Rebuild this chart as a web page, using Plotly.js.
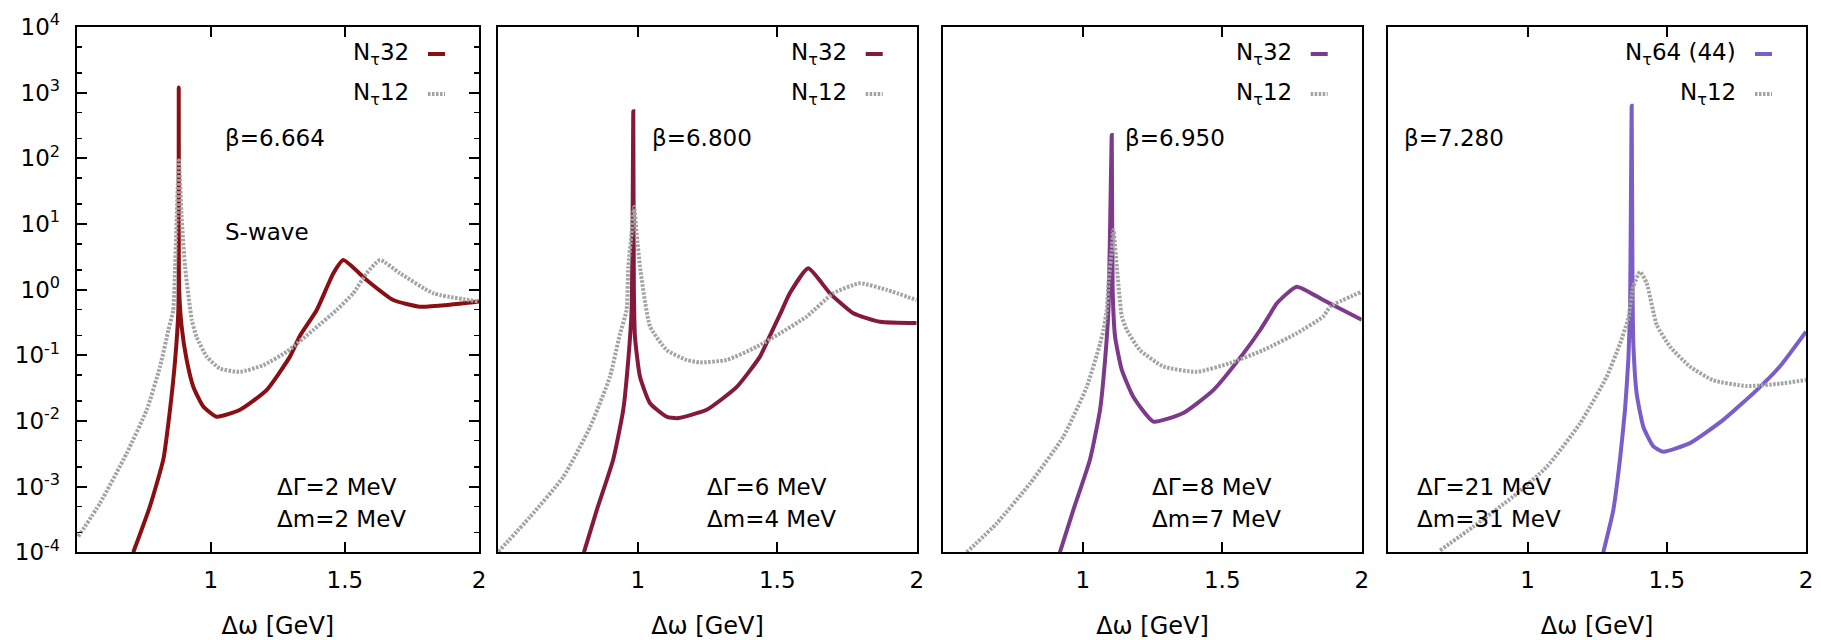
<!DOCTYPE html>
<html><head><meta charset="utf-8">
<script src="https://cdn.plot.ly/plotly-3.0.1.min.js"></script>
<style>html,body{margin:0;padding:0;background:#fff}#chart{width:1821px;height:640px}</style>
</head><body><div id="chart"></div>
<script>
// ---------------- data ----------------
const panelBetas = ["β=6.664", "β=6.800", "β=6.950", "β=7.280"];
const panelGamma = ["ΔΓ=2 MeV", "ΔΓ=6 MeV", "ΔΓ=8 MeV", "ΔΓ=21 MeV"];
const panelMass  = ["Δm=2 MeV", "Δm=4 MeV", "Δm=7 MeV", "Δm=31 MeV"];
const mainLabels = ["N<sub>τ</sub>32", "N<sub>τ</sub>32", "N<sub>τ</sub>32", "N<sub>τ</sub>64 (44)"];
const refLabel = "N<sub>τ</sub>12";
const xTickVals = [1, 1.5, 2];
const xTickText = ["1", "1.5", "2"];
const yTickVals = [1e-4, 1e-3, 1e-2, 1e-1, 1e0, 1e1, 1e2, 1e3, 1e4];
const yTickText = ["10<sup>-4</sup>","10<sup>-3</sup>","10<sup>-2</sup>","10<sup>-1</sup>","10<sup>0</sup>","10<sup>1</sup>","10<sup>2</sup>","10<sup>3</sup>","10<sup>4</sup>"];

// panel 1 (beta = 6.664)
const p1MainX = [0.711, 0.773, 0.823, 0.848, 0.867, 0.879, 0.8805, 0.882, 0.891, 0.910, 0.935, 0.972, 1.022, 1.109, 1.208, 1.295, 1.333, 1.395, 1.457, 1.494, 1.581, 1.68, 1.78, 1.892, 2.0];
const p1MainY = [1.0e-4, 5.0e-4, 2.6e-3, 1.5e-2, 8.5e-2, 0.49, 1.2e3, 1.0, 0.28, 0.085, 0.033, 0.0166, 0.0116, 0.0148, 0.0295, 0.0955, 0.2, 0.49, 1.78, 2.83, 1.4, 0.695, 0.55, 0.59, 0.66];
const p1RefX = [0.506, 0.587, 0.686, 0.761, 0.811, 0.842, 0.860, 0.867, 0.873, 0.881, 0.891, 0.904, 0.929, 0.947, 0.985, 1.034, 1.109, 1.196, 1.283, 1.382, 1.469, 1.531, 1.581, 1.631, 1.705, 1.83, 2.0];
const p1RefY = [1.74e-4, 5.6e-4, 3.2e-3, 0.0148, 0.0676, 0.243, 0.49, 2.24, 12.9, 93, 12.9, 2.24, 0.347, 0.19, 0.0955, 0.063, 0.056, 0.0708, 0.1135, 0.243, 0.49, 0.88, 1.78, 2.82, 1.78, 0.88, 0.66];

// panel 2 (beta = 6.800)
const p2MainX = [0.807, 0.853, 0.912, 0.948, 0.966, 0.978, 0.984, 0.986, 0.990, 1.008, 1.044, 1.104, 1.14, 1.247, 1.355, 1.438, 1.474, 1.51, 1.545, 1.611, 1.689, 1.773, 1.869, 2.0];
const p2MainY = [1.0e-4, 4.4e-4, 2.6e-3, 0.0148, 0.085, 0.49, 520, 1.0, 0.19, 0.047, 0.0186, 0.0116, 0.011, 0.0148, 0.033, 0.0955, 0.2, 0.42, 0.88, 2.11, 0.88, 0.437, 0.324, 0.31];
const p2RefX = [0.5, 0.614, 0.733, 0.829, 0.90, 0.936, 0.96, 0.966, 0.978, 0.987, 0.996, 1.008, 1.044, 1.104, 1.175, 1.223, 1.319, 1.427, 1.51, 1.606, 1.701, 1.797, 1.893, 2.0];
const p2RefY = [1.02e-4, 3.47e-4, 1.41e-3, 8.1e-3, 0.047, 0.21, 0.49, 2.24, 7.2, 18.2, 7.2, 2.24, 0.275, 0.12, 0.085, 0.078, 0.085, 0.135, 0.216, 0.39, 0.88, 1.25, 0.99, 0.695];

// panel 3 (beta = 6.950)
const p3MainX = [0.918, 0.966, 1.026, 1.062, 1.08, 1.092, 1.104, 1.107, 1.116, 1.14, 1.181, 1.253, 1.36, 1.468, 1.576, 1.636, 1.671, 1.696, 1.767, 1.862, 2.0];
const p3MainY = [1.0e-4, 4.4e-4, 2.6e-3, 0.0148, 0.085, 0.49, 226, 1.0, 0.19, 0.06, 0.0234, 0.0098, 0.0132, 0.0295, 0.107, 0.243, 0.42, 0.62, 1.11, 0.695, 0.347];
const p3RefX = [0.584, 0.691, 0.811, 0.93, 1.014, 1.062, 1.074, 1.086, 1.092, 1.104, 1.11, 1.122, 1.14, 1.158, 1.205, 1.289, 1.409, 1.528, 1.647, 1.767, 1.862, 1.887, 2.0];
const p3RefY = [1.0e-4, 2.75e-4, 1.12e-3, 5.75e-3, 0.033, 0.15, 0.243, 0.49, 1.25, 4.0, 8.1, 2.24, 0.39, 0.243, 0.12, 0.0676, 0.056, 0.076, 0.12, 0.216, 0.39, 0.55, 0.93];

// panel 4 (beta = 7.280)
const p4MainX = [1.272, 1.308, 1.332, 1.35, 1.362, 1.368, 1.374, 1.377, 1.38, 1.392, 1.416, 1.452, 1.487, 1.583, 1.703, 1.823, 1.906, 2.0];
const p4MainY = [1.0e-4, 4.4e-4, 2.6e-3, 0.0148, 0.085, 0.49, 630, 1.0, 0.15, 0.026, 8.1e-3, 4.1e-3, 3.4e-3, 4.6e-3, 0.0104, 0.0295, 0.0676, 0.23];
const p4RefX = [0.686, 0.805, 0.949, 1.069, 1.188, 1.284, 1.332, 1.362, 1.38, 1.404, 1.428, 1.464, 1.512, 1.583, 1.667, 1.787, 1.906, 2.0];
const p4RefY = [1.07e-4, 2.45e-4, 7.1e-4, 2.0e-3, 9.1e-3, 0.047, 0.15, 0.37, 1.11, 1.86, 1.25, 0.29, 0.135, 0.0676, 0.0417, 0.034, 0.037, 0.042];

const mainColors = ["#8a0f12", "#85193d", "#7d3a8a", "#7b5dc9"];
const refColor = "#a3a3a3";

// ---------------- layout helpers ----------------
const W = 1821, H = 640;
const fx = p => p / W;
const fy = p => 1 - p / H;
const frames = [[76.7, 479], [498.3, 916.7], [943.3, 1361.7], [1388.3, 1806]];
const yTop = 27, yBot = 552.3;
const FONT = "DejaVu Sans, Liberation Sans, Arial, sans-serif";

const mains = [[p1MainX, p1MainY], [p2MainX, p2MainY], [p3MainX, p3MainY], [p4MainX, p4MainY]];
const refs = [[p1RefX, p1RefY], [p2RefX, p2RefY], [p3RefX, p3RefY], [p4RefX, p4RefY]];

const traces = [];
const layout = {
  width: W, height: H,
  margin: {l: 0, r: 0, t: 0, b: 0},
  paper_bgcolor: "#fff", plot_bgcolor: "#fff",
  showlegend: false,
  font: {family: FONT, color: "#000", size: 23},
  annotations: [], shapes: []
};

const minorVals = [];
for (let d = -4; d < 4; d++) { minorVals.push(2 * Math.pow(10, d), 5 * Math.pow(10, d)); }

const betaX = [222.7, 650, 1123.3, 1401.7];
const dgX = [275, 705, 1150, 1415];

for (let i = 0; i < 4; i++) {
  const n = i === 0 ? "" : String(i + 1);
  const xa = "x" + n, ya = "y" + n;
  traces.push({x: mains[i][0], y: mains[i][1], xaxis: xa, yaxis: ya, mode: "lines",
    line: {color: mainColors[i], width: 4, shape: "spline", smoothing: 0.5}, hoverinfo: "skip"});
  traces.push({x: refs[i][0], y: refs[i][1], xaxis: xa, yaxis: ya, mode: "lines",
    line: {color: refColor, width: 4, dash: "2.5px,1.5px", shape: "spline", smoothing: 0.5}, hoverinfo: "skip"});

  layout["xaxis" + n] = {
    domain: [fx(frames[i][0]), fx(frames[i][1])], anchor: ya,
    range: [0.5, 2], showgrid: false, zeroline: false,
    showline: true, linecolor: "#000", linewidth: 2, mirror: "ticks",
    ticks: "inside", ticklen: 10, tickwidth: 2, tickcolor: "#000",
    tickvals: xTickVals, ticktext: xTickText, ticklabelstandoff: 6,
    tickfont: {size: 23, family: FONT},
    title: {text: "Δω [GeV]", font: {size: 24, family: FONT}, standoff: 26},
    automargin: false
  };
  const yax = {
    domain: [fy(yBot), fy(yTop)], anchor: xa, type: "log", range: [-4, 4],
    showgrid: false, zeroline: false, showline: true, linecolor: "#000", linewidth: 2,
    automargin: false
  };
  if (i === 0) {
    Object.assign(yax, {mirror: "ticks", ticks: "inside", ticklen: 10, tickwidth: 2, tickcolor: "#000",
      tickvals: yTickVals, ticktext: yTickText, tickfont: {size: 23, family: FONT}, ticklabelstandoff: 10,
      minor: {tickvals: minorVals, ticks: "inside", ticklen: 5, tickwidth: 1.5, tickcolor: "#000", showgrid: false}});
  } else {
    Object.assign(yax, {mirror: true, ticks: "", showticklabels: false});
  }
  layout["yaxis" + n] = yax;

  const right = frames[i][1];
  layout.annotations.push({xref: "paper", yref: "paper", x: fx(right - 68), y: fy(54), xanchor: "right", yanchor: "middle",
    text: mainLabels[i], showarrow: false, font: {size: 23, family: FONT}});
  layout.annotations.push({xref: "paper", yref: "paper", x: fx(right - 68), y: fy(94), xanchor: "right", yanchor: "middle",
    text: refLabel, showarrow: false, font: {size: 23, family: FONT}});
  layout.shapes.push({type: "line", xref: "paper", yref: "paper", x0: fx(right - 51), x1: fx(right - 34), y0: fy(54), y1: fy(54),
    line: {color: mainColors[i], width: 4}});
  layout.shapes.push({type: "line", xref: "paper", yref: "paper", x0: fx(right - 51), x1: fx(right - 34), y0: fy(94), y1: fy(94),
    line: {color: refColor, width: 4, dash: "2.5px,1.5px"}});

  layout.annotations.push({xref: "paper", yref: "paper", x: fx(betaX[i]), y: fy(138), xanchor: "left", yanchor: "middle",
    text: panelBetas[i], showarrow: false, font: {size: 23, family: FONT}});
  layout.annotations.push({xref: "paper", yref: "paper", x: fx(dgX[i]), y: fy(486.7), xanchor: "left", yanchor: "middle",
    text: panelGamma[i], showarrow: false, font: {size: 23, family: FONT}});
  layout.annotations.push({xref: "paper", yref: "paper", x: fx(dgX[i]), y: fy(519.3), xanchor: "left", yanchor: "middle",
    text: panelMass[i], showarrow: false, font: {size: 23, family: FONT}});
}
layout.annotations.push({xref: "paper", yref: "paper", x: fx(222.7), y: fy(232), xanchor: "left", yanchor: "middle",
  text: "S-wave", showarrow: false, font: {size: 23, family: FONT}});

Plotly.newPlot("chart", traces, layout, {staticPlot: true, displayModeBar: false});
</script>
</body></html>
